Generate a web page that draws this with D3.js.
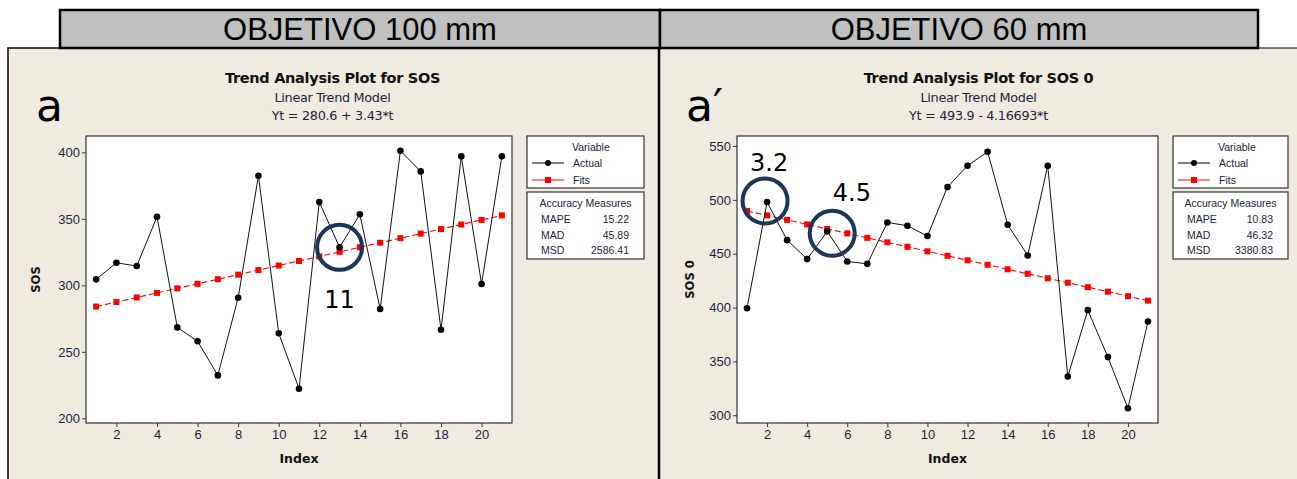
<!DOCTYPE html>
<html><head><meta charset="utf-8">
<script src="https://cdn.jsdelivr.net/npm/d3@7"></script>
<style>html,body{margin:0;padding:0;background:#fff;overflow:hidden}</style>
</head><body><svg id="c" width="1297" height="479"></svg>
<script>
// ---------- data ----------
const indexVals = d3.range(1, 22);
const sosActual = [304.5, 317, 314.5, 351.6, 268.4, 258, 232.3, 290.7, 382.4, 264, 222.3, 362.6, 328.6, 353.4, 282.2, 401.2, 385.7, 266.6, 397, 301, 397];
const sosFits   = [284.03, 287.46, 290.89, 294.32, 297.75, 301.18, 304.61, 308.04, 311.47, 314.90, 318.33, 321.76, 325.19, 328.62, 332.05, 335.48, 338.91, 342.34, 345.77, 349.20, 352.63];
const sos0Actual = [399.4, 498, 462.6, 445, 470.7, 442.8, 440.6, 479, 476, 466.4, 512, 531.7, 544.7, 476.9, 448.4, 531.7, 336, 397.6, 354, 306.5, 387];
const sos0Fits   = [489.73, 485.57, 481.40, 477.23, 473.07, 468.90, 464.73, 460.57, 456.40, 452.23, 448.06, 443.90, 439.73, 435.56, 431.40, 427.23, 423.06, 418.90, 414.73, 410.56, 406.40];
const xTicks = [2, 4, 6, 8, 10, 12, 14, 16, 18, 20];
const sosYTicks = [200, 250, 300, 350, 400];
const sos0YTicks = [300, 350, 400, 450, 500, 550];
const headers = ["OBJETIVO 100 mm", "OBJETIVO 60 mm"];
const titles = ["Trend Analysis Plot for SOS", "Trend Analysis Plot for SOS 0"];
const equations = ["Yt = 280.6 + 3.43*t", "Yt = 493.9 - 4.16693*t"];
const yLabels = ["SOS", "SOS 0"];
const panelLetters = ["a", "a\u2032"];
const accuracyNames = ["MAPE", "MAD", "MSD"];
const sosAccuracy = ["15.22", "45.89", "2586.41"];
const sos0Accuracy = ["10.83", "46.32", "3380.83"];
// annotations: [index, value, label]
const sosCircles = [[13, 328.6]];
const sosNotes = [[13, 283, "11"]];
const sos0Circles = [[1.9, 499], [5.25, 469]];
const sos0Notes = [[2.1, 527, "3.2"], [6.23, 499, "4.5"]];

// ---------- drawing ----------
const svg = d3.select("#c");
const beige = "#efebe1";
const txt = "#1c2438";
const font = "'Liberation Sans', Arial, sans-serif";
const tfont = "'DejaVu Sans', Verdana, sans-serif";

// panels background
svg.append("rect").attr("x", 8).attr("y", 48).attr("width", 651).attr("height", 440)
  .attr("fill", beige).attr("stroke", "#000").attr("stroke-width", 1.5);
svg.append("rect").attr("x", 659).attr("y", 48).attr("width", 650).attr("height", 440)
  .attr("fill", beige).attr("stroke", "#000").attr("stroke-width", 1);
svg.append("line").attr("x1", 659).attr("x2", 659).attr("y1", 47).attr("y2", 479)
  .attr("stroke", "#000").attr("stroke-width", 2.5);

// header boxes
[[60, 600], [660, 598]].forEach((h, i) => {
  svg.append("rect").attr("x", h[0]).attr("y", 10).attr("width", h[1]).attr("height", 38)
    .attr("fill", "#c0c0c0").attr("stroke", "#000").attr("stroke-width", 2.5);
  svg.append("text").attr("x", h[0] + h[1] / 2).attr("y", 40).attr("text-anchor", "middle")
    .attr("font-family", font).attr("font-size", 31).attr("fill", "#000").text(headers[i]);
});

function drawPanel(o) {
  const g = svg.append("g");
  const x = d3.scaleLinear().domain([0.5, 21.5]).range([o.x0, o.x1]);
  const y = d3.scaleLinear().domain(o.yDomain).range([o.y1, o.y0]);
  const cx = (o.px0 + o.px1) / 2;

  g.append("text").attr("x", cx).attr("y", 83).attr("text-anchor", "middle")
    .attr("font-family", tfont).attr("font-weight", "bold").attr("font-size", 14.5).attr("fill", "#111")
    .attr("letter-spacing", -0.3).text(o.title);
  g.append("text").attr("x", cx).attr("y", 102).attr("text-anchor", "middle")
    .attr("font-family", tfont).attr("font-size", 12.8).attr("fill", txt).attr("letter-spacing", -0.3).text("Linear Trend Model");
  g.append("text").attr("x", cx).attr("y", 120).attr("text-anchor", "middle")
    .attr("font-family", tfont).attr("font-size", 12.8).attr("fill", txt).attr("letter-spacing", -0.3).text(o.eqn);

  g.append("text").attr("x", o.letterX).attr("y", 121)
    .attr("font-family", "'DejaVu Sans', sans-serif").attr("font-size", 44).attr("fill", "#000").text(o.letter);

  g.append("rect").attr("x", o.x0).attr("y", o.y0).attr("width", o.x1 - o.x0).attr("height", o.y1 - o.y0)
    .attr("fill", "#fff").attr("stroke", "#333").attr("stroke-width", 1.2);

  const ya = g.append("g").attr("transform", `translate(${o.x0},0)`)
    .call(d3.axisLeft(y).tickValues(o.yTicks).tickSize(4).tickPadding(2).tickSizeOuter(0));
  const xa = g.append("g").attr("transform", `translate(0,${o.y1})`)
    .call(d3.axisBottom(x).tickValues(xTicks).tickSize(4).tickPadding(3).tickSizeOuter(0));
  [ya, xa].forEach(a => {
    a.select(".domain").remove();
    a.selectAll("line").attr("stroke", "#333");
    a.selectAll("text").attr("font-family", font).attr("font-size", 13).attr("fill", txt);
  });

  g.append("text").attr("transform", `translate(${o.ylabX},${(o.y0 + o.y1) / 2}) rotate(-90)`)
    .attr("text-anchor", "middle").attr("font-family", tfont).attr("font-weight", "bold")
    .attr("font-size", 11.5).attr("fill", "#111").text(o.ylabel);
  g.append("text").attr("x", (o.x0 + o.x1) / 2).attr("y", 463).attr("text-anchor", "middle")
    .attr("font-family", tfont).attr("font-weight", "bold").attr("font-size", 12.5).attr("fill", "#111").text("Index");

  // fits
  const line = d3.line().x((d, i) => x(indexVals[i])).y(d => y(d));
  g.append("path").attr("d", line(o.fits)).attr("fill", "none").attr("stroke", "#ff0000")
    .attr("stroke-width", 1.1).attr("stroke-dasharray", "6,3");
  g.selectAll(null).data(o.fits).enter().append("rect")
    .attr("x", (d, i) => x(indexVals[i]) - 3).attr("y", d => y(d) - 3)
    .attr("width", 6).attr("height", 6).attr("fill", "#ff0000");
  // actual
  g.append("path").attr("d", line(o.actual)).attr("fill", "none").attr("stroke", "#111").attr("stroke-width", 1);
  g.selectAll(null).data(o.actual).enter().append("circle")
    .attr("cx", (d, i) => x(indexVals[i])).attr("cy", d => y(d)).attr("r", 3.3).attr("fill", "#000");

  // annotations
  o.circles.forEach(c => {
    g.append("circle").attr("cx", x(c[0])).attr("cy", y(c[1])).attr("r", 22.5)
      .attr("fill", "none").attr("stroke", "#1d3557").attr("stroke-width", 4);
  });
  o.notes.forEach(n => {
    g.append("text").attr("x", x(n[0])).attr("y", y(n[1])).attr("text-anchor", "middle")
      .attr("font-family", "'DejaVu Sans', sans-serif").attr("font-size", 24).attr("fill", "#000").text(n[2]);
  });

  // legend
  const lx = o.x1 + 15, lw = o.legW;
  const lg = g.append("g");
  lg.append("rect").attr("x", lx).attr("y", o.y0).attr("width", lw).attr("height", 52)
    .attr("fill", "#fff").attr("stroke", "#333").attr("stroke-width", 1.2);
  lg.append("text").attr("x", lx + 45).attr("y", 151).attr("font-family", font).attr("font-size", 10.5).attr("fill", txt).text("Variable");
  lg.append("line").attr("x1", lx + 5).attr("x2", lx + 37).attr("y1", 163).attr("y2", 163).attr("stroke", "#000");
  lg.append("circle").attr("cx", lx + 21).attr("cy", 163).attr("r", 3).attr("fill", "#000");
  lg.append("text").attr("x", lx + 46).attr("y", 167).attr("font-family", font).attr("font-size", 10.5).attr("fill", txt).text("Actual");
  lg.append("line").attr("x1", lx + 5).attr("x2", lx + 37).attr("y1", 180).attr("y2", 180).attr("stroke", "#ff0000");
  lg.append("rect").attr("x", lx + 18).attr("y", 177).attr("width", 6).attr("height", 6).attr("fill", "#ff0000");
  lg.append("text").attr("x", lx + 46).attr("y", 184).attr("font-family", font).attr("font-size", 10.5).attr("fill", txt).text("Fits");

  lg.append("rect").attr("x", lx).attr("y", 192).attr("width", lw).attr("height", 67)
    .attr("fill", "#fff").attr("stroke", "#333").attr("stroke-width", 1.2);
  lg.append("text").attr("x", lx + lw / 2).attr("y", 206.5).attr("text-anchor", "middle")
    .attr("font-family", font).attr("font-size", 10.5).attr("fill", txt).text("Accuracy Measures");
  accuracyNames.forEach((nm, i) => {
    const yy = 223 + i * 15.7;
    lg.append("text").attr("x", lx + 14).attr("y", yy).attr("font-family", font).attr("font-size", 10.5).attr("fill", txt).text(nm);
    lg.append("text").attr("x", lx + lw - 15).attr("y", yy).attr("text-anchor", "end")
      .attr("font-family", font).attr("font-size", 10.5).attr("fill", txt).text(o.acc[i]);
  });
}

drawPanel({px0: 8, px1: 657, x0: 86, x1: 512, y0: 136, y1: 423, yDomain: [196.5, 412.3], yTicks: sosYTicks,
  actual: sosActual, fits: sosFits, title: titles[0], eqn: equations[0], ylabel: yLabels[0], ylabX: 40,
  letter: panelLetters[0], letterX: 36, circles: sosCircles, notes: sosNotes, legW: 117, acc: sosAccuracy});
drawPanel({px0: 660, px1: 1297, x0: 737, x1: 1158, y0: 136, y1: 423, yDomain: [292.8, 559.3], yTicks: sos0YTicks,
  actual: sos0Actual, fits: sos0Fits, title: titles[1], eqn: equations[1], ylabel: yLabels[1], ylabX: 694,
  letter: panelLetters[1], letterX: 686, circles: sos0Circles, notes: sos0Notes, legW: 115, acc: sos0Accuracy});
</script></body></html>
